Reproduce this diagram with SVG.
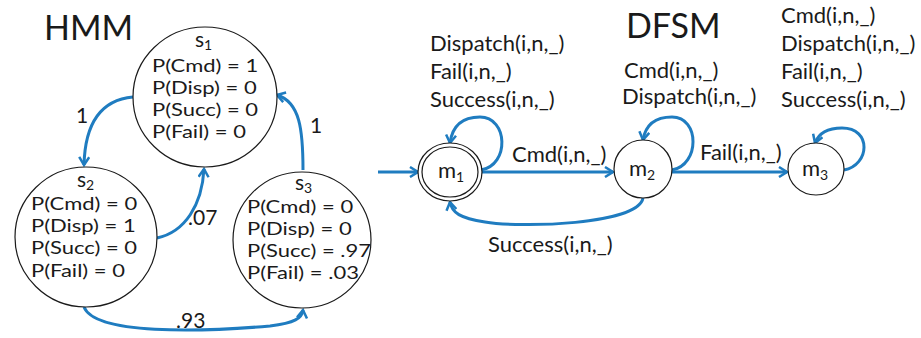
<svg xmlns="http://www.w3.org/2000/svg" width="921" height="338" viewBox="0 0 921 338">
<defs>
<marker id="arr" viewBox="0 0 12 12" refX="10" refY="6" markerWidth="12" markerHeight="12" markerUnits="userSpaceOnUse" orient="auto">
<polyline points="2,1 10,6 2,11" fill="none" stroke="#1f7cc0" stroke-width="2.5" stroke-linejoin="miter"/>
</marker>
<style>
text{font-family:Lato,"Liberation Sans",sans-serif;fill:#1a1a1a}
.t{font-size:34px}
.p{font-size:22px}
.q{font-size:21px}
.l{font-size:22px}
.sub{font-size:14px}
.n{fill:#fff;stroke:#1a1a1a;stroke-width:1.2}
.e{fill:none;stroke:#1f7cc0;stroke-width:3;marker-end:url(#arr)}
</style>
</defs>
<rect width="921" height="338" fill="#fff"/>
<text class="t" x="44" y="40">HMM</text>
<text class="t" x="626" y="38">DFSM</text>

<g id="connectors">
<path class="e" d="M133,97 C100,100 85,125 84,165"/>
<path class="e" d="M157,238 C185,232 202,205 204,169"/>
<path class="e" d="M303,170 C303,130 300,102 277,95"/>
<path class="e" d="M84,307 C95,335 200,332 270,326 C295,323 302,318 303,310"/>
<path class="e" d="M378,172 L418,172"/>
<path class="e" d="M481,170 C510,165 508,117 480,117 C460,117 452,128 450,143"/>
<path class="e" d="M481,172 L613,172"/>
<path class="e" d="M643,198 C638,225 520,228 485,222 C460,218 452,213 450,202"/>
<path class="e" d="M672,170 C700,165 700,117 672,117 C652,117 645,128 643,140"/>
<path class="e" d="M672,172 L787,172"/>
<path class="e" d="M844,170 C870,165 872,128 842,128 C826,128 818,135 815,143"/>
</g>

<g id="s1">
<ellipse class="n" cx="205" cy="97" rx="72" ry="70"/>
<text class="q" x="195" y="47">s<tspan class="sub" dy="3">1</tspan></text>
<text class="p" transform="translate(152,72) scale(1,0.8)">P(Cmd) = 1</text>
<text class="p" transform="translate(152,94) scale(1,0.8)">P(Disp) = 0</text>
<text class="p" transform="translate(152,116) scale(1,0.8)">P(Succ) = 0</text>
<text class="p" transform="translate(152,138) scale(1,0.8)">P(Fail) = 0</text>
</g>
<g id="s2">
<ellipse class="n" cx="86" cy="237" rx="71" ry="70"/>
<text class="q" x="77" y="187">s<tspan class="sub" dy="3">2</tspan></text>
<text class="p" transform="translate(31,210) scale(1,0.8)">P(Cmd) = 0</text>
<text class="p" transform="translate(31,232) scale(1,0.8)">P(Disp) = 1</text>
<text class="p" transform="translate(31,254) scale(1,0.8)">P(Succ) = 0</text>
<text class="p" transform="translate(31,277) scale(1,0.8)">P(Fail) = 0</text>
</g>
<g id="s3">
<ellipse class="n" cx="302" cy="240" rx="69" ry="68"/>
<text class="q" x="295" y="190">s<tspan class="sub" dy="3">3</tspan></text>
<text class="p" transform="translate(247,213) scale(1,0.8)">P(Cmd) = 0</text>
<text class="p" transform="translate(247,235) scale(1,0.8)">P(Disp) = 0</text>
<text class="p" transform="translate(247,257) scale(1,0.8)">P(Succ) = .97</text>
<text class="p" transform="translate(247,279) scale(1,0.8)">P(Fail) = .03</text>
</g>

<g id="hmm-labels">
<text class="q" x="76" y="123">1</text>
<text class="q" x="310" y="133">1</text>
<text class="q" x="188" y="225">.07</text>
<text class="q" x="176" y="328">.93</text>
</g>

<g id="m1">
<ellipse class="n" cx="450" cy="172" rx="32" ry="29"/>
<ellipse class="n" cx="450" cy="172" rx="28" ry="25"/>
<text class="l" x="438" y="178">m<tspan class="sub" dy="4">1</tspan></text>
</g>
<g id="m2">
<ellipse class="n" cx="643" cy="169" rx="29" ry="29"/>
<text class="l" x="629" y="176">m<tspan class="sub" dy="4">2</tspan></text>
</g>
<g id="m3">
<ellipse class="n" cx="816" cy="169" rx="28" ry="26"/>
<text class="l" x="802" y="176">m<tspan class="sub" dy="4">3</tspan></text>
</g>

<g id="dfsm-labels">
<text class="l" x="430" y="51">Dispatch(i,n,_)</text>
<text class="l" x="430" y="79">Fail(i,n,_)</text>
<text class="l" x="430" y="107">Success(i,n,_)</text>
<text class="l" x="512" y="162">Cmd(i,n,_)</text>
<text class="l" x="488" y="252">Success(i,n,_)</text>
<text class="l" x="624" y="78">Cmd(i,n,_)</text>
<text class="l" x="622" y="104">Dispatch(i,n,_)</text>
<text class="l" x="700" y="160">Fail(i,n,_)</text>
<text class="l" x="781" y="23">Cmd(i,n,_)</text>
<text class="l" x="781" y="51">Dispatch(i,n,_)</text>
<text class="l" x="781" y="79">Fail(i,n,_)</text>
<text class="l" x="781" y="107">Success(i,n,_)</text>
</g>
</svg>
